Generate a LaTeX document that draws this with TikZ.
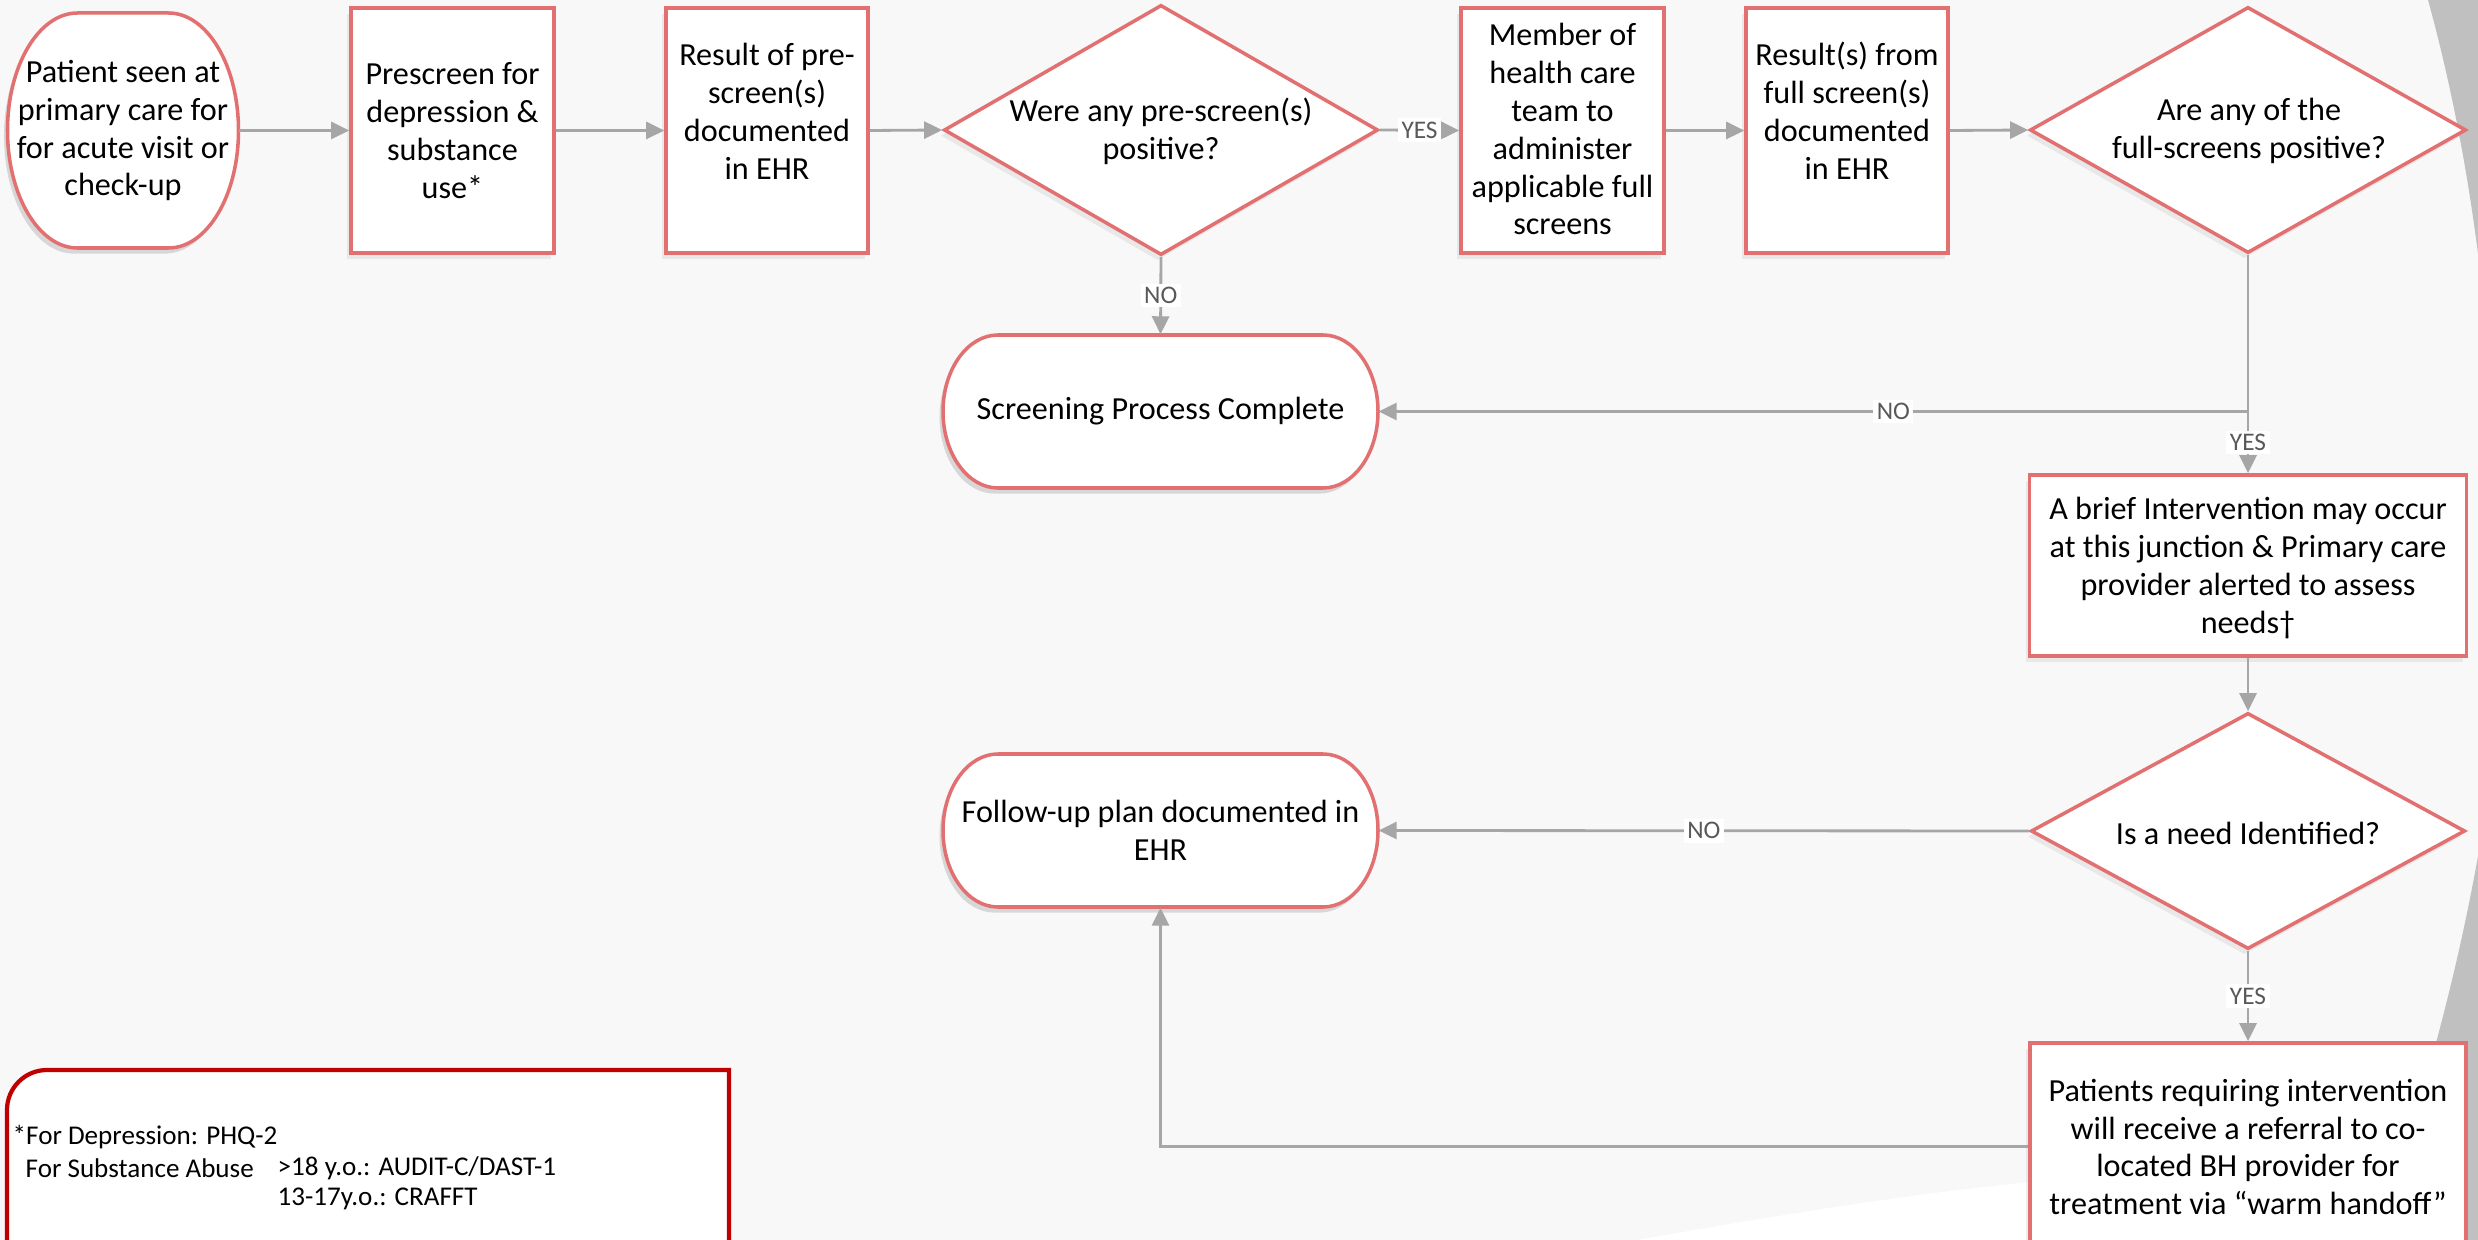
\documentclass[tikz,border=0pt]{standalone}
\usepackage{fontspec}
\setmainfont{Carlito}
\usetikzlibrary{shapes.geometric,arrows.meta,shadows}
\definecolor{bgc}{RGB}{248,248,248}
\definecolor{edgec}{RGB}{226,112,112}
\definecolor{flowc}{RGB}{166,166,166}
\definecolor{lblc}{RGB}{89,89,89}
\definecolor{decoc}{RGB}{192,192,192}
\definecolor{legred}{RGB}{192,0,0}
\tikzset{
  shad/.style={drop shadow={shadow xshift=-1pt,shadow yshift=-1.6pt,opacity=0.13}},
  boxnode/.style={rectangle,draw=edgec,line width=1pt,fill=white,inner sep=0pt,shad},
  diam/.style={diamond,draw=edgec,line width=1pt,fill=white,inner sep=0pt,shad},
  anch/.style={rectangle,inner sep=0pt,draw=none},
  txt/.style={align=center,font=\fontsize{9.15}{10.8}\selectfont,inner sep=0pt},
  legtxt/.style={font=\fontsize{7.7}{9}\selectfont,inner sep=0pt,anchor=west},
  flow/.style={draw=flowc,line width=0.8pt,-{Triangle[length=0.18cm,width=0.17cm]}},
  link/.style={draw=flowc,line width=0.8pt},
  yn/.style={font=\fontsize{7.2}{8}\selectfont,text=lblc,fill=white,inner sep=1pt},
}
% terminator: name, cx, cy, hw, hh, rx, text
\newcommand\terminal[7]{%
  \fill[black,opacity=0.13,xshift=-1pt,yshift=-1.6pt]
    (#2-#4+#6,#3-#5) -- (#2+#4-#6,#3-#5)
    arc[start angle=-90,end angle=90,x radius=#6,y radius=#5]
    -- (#2-#4+#6,#3+#5)
    arc[start angle=90,end angle=270,x radius=#6,y radius=#5] -- cycle;
  \draw[draw=edgec,line width=1pt,fill=white]
    (#2-#4+#6,#3-#5) -- (#2+#4-#6,#3-#5)
    arc[start angle=-90,end angle=90,x radius=#6,y radius=#5]
    -- (#2-#4+#6,#3+#5)
    arc[start angle=90,end angle=270,x radius=#6,y radius=#5] -- cycle;
  \node[anch,minimum width=2*#4*0.01cm,minimum height=2*#5*0.01cm] (#1) at (#2,#3) {};
  \node[txt] at (#2,#3) {#7};
}
\begin{document}
\begin{tikzpicture}[x=0.01cm,y=-0.01cm]
\useasboundingbox (0,0) rectangle (2478,1240);
\clip (0,0) rectangle (2478,1240);
% background
\fill[bgc] (0,0) rectangle (2478,1240);
\fill[decoc] (2428,0) .. controls (2450,80) and (2468,170) .. (2480,270) -- (2480,0) -- cycle;
\fill[decoc] (2480,845) .. controls (2465,930) and (2450,990) .. (2436,1043) -- (2400,1240) -- (2480,1240) -- cycle;
\fill[white] (1625,1242) .. controls (1780,1215) and (1900,1195) .. (2030,1182) -- (2100,1175) -- (2100,1242) -- cycle;

% terminators
\terminal{pat}{123}{130.5}{115.5}{117.5}{70}{Patient seen at\\primary care for\\for acute visit or\\check-up}
\terminal{spc}{1160.5}{411.5}{217.5}{76.5}{55}{Screening Process Complete}
\terminal{fu}{1160.5}{830.5}{217.5}{76.5}{55}{Follow-up plan documented in\\EHR}

% boxes
\node[boxnode,minimum width=2.03cm,minimum height=2.45cm] (pre) at (452.5,130.5) {};
\node[txt] (pret) at (452.5,130.5) {Prescreen for\\depression \&\\substance\\use*};
\node[boxnode,minimum width=2.02cm,minimum height=2.45cm] (r1) at (767,130.5) {};
\node[txt] (r1t) at (767,111) {Result of pre-\\screen(s)\\documented\\in EHR};
\node[boxnode,minimum width=2.03cm,minimum height=2.45cm] (mem) at (1562.5,130.5) {};
\node[txt] (memt) at (1562.5,129) {Member of\\health care\\team to\\administer\\applicable full\\screens};
\node[boxnode,minimum width=2.02cm,minimum height=2.45cm] (r2) at (1847,130.5) {};
\node[txt] (r2t) at (1847,111) {Result(s) from\\full screen(s)\\documented\\in EHR};
\node[boxnode,minimum width=4.37cm,minimum height=1.81cm] (bi) at (2248,565.5) {};
\node[txt] (bit) at (2248,568) {A brief Intervention may occur\\at this junction \& Primary care\\provider alerted to assess\\needs†};
\node[boxnode,minimum width=4.36cm,minimum height=2.07cm] (pr) at (2248,1146.5) {};
\node[txt] (prt) at (2248,1147) {Patients requiring intervention\\will receive a referral to co-\\located BH provider for\\treatment via “warm handoff”};

% diamonds
\node[diam,minimum width=4.34cm,minimum height=2.5cm] (d1) at (1161,130) {};
\node[txt] (d1t) at (1161,131) {Were any pre-screen(s)\\positive?};
\node[diam,minimum width=4.36cm,minimum height=2.46cm] (d2) at (2248,130) {};
\node[txt] (d2t) at (2249,131) {Are any of the\\full-screens positive?};
\node[diam,minimum width=4.34cm,minimum height=2.36cm] (d3) at (2248,831) {};
\node[txt] (d3t) at (2248,833) {Is a need Identified?};

% connectors
\draw[flow] (pat.east) -- (pre.west);
\draw[flow] (pre.east) -- (r1.west);
\draw[flow] (r1.east) -- (d1.west);
\draw[flow] (d1.east) -- node[yn] {YES} (mem.west);
\draw[flow] (mem.east) -- (r2.west);
\draw[flow] (r2.east) -- (d2.west);
\draw[flow] (d1.south) -- node[yn] {NO} (spc.north);
\draw[flow] (d2.south) |- node[yn,pos=0.704] {NO} (spc.east);
\draw[flow] (d2.south) -- node[yn,pos=0.86] {YES} (bi.north);
\draw[flow] (bi.south) -- (d3.north);
\draw[flow] (d3.west) -- node[yn] {NO} (fu.east);
\draw[flow] (d3.south) -- node[yn] {YES} (pr.north);
\draw[flow] (pr.west) -| (fu.south);

% legend
\draw[legred,line width=1.2pt,fill=white] (729,1262) -- (729,1070) -- (47,1070)
  arc[start angle=-90,end angle=-180,radius=40] -- (7,1262);
\node[legtxt] (l1) at (12,1137) {*For Depression: PHQ-2};
\node[legtxt] (l2) at (25,1168) {For Substance Abuse};
\node[legtxt] (l3) at (277,1168) {>18 y.o.: AUDIT-C/DAST-1};
\node[legtxt] (l4) at (277,1199) {13-17y.o.: CRAFFT};
\end{tikzpicture}
\end{document}
